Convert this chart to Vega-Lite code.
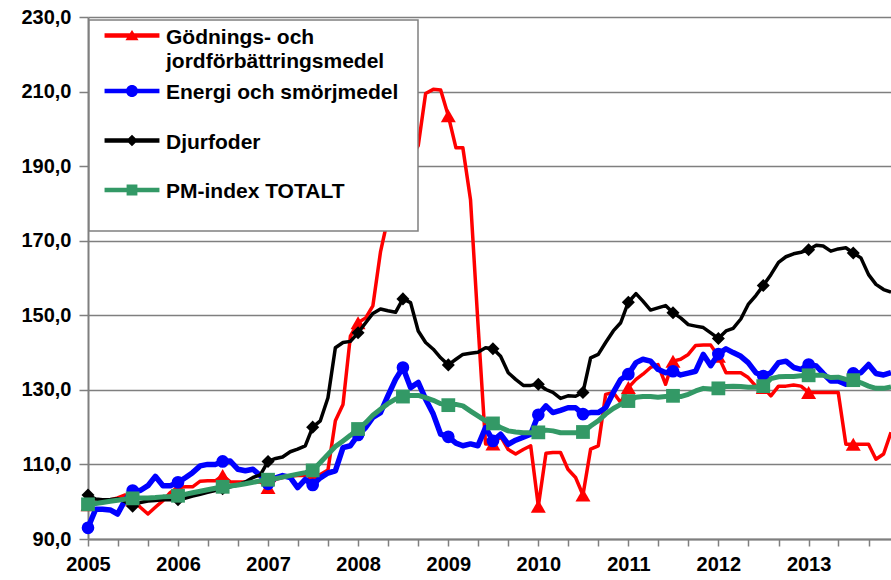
{
"$schema":"https://vega.github.io/schema/vega-lite/v6.json",
"width":803,"height":522,
"autosize":{"type":"none"},
"padding":{"left":88,"top":17,"right":0,"bottom":41},
"config":{"view":{"stroke":null},"font":"Liberation Sans"},
"data":{"format":{"parse":{"date":"utc:'%Y-%m'"}},"values":[
{"date":"2005-01","series":"godning","value":99.2},{"date":"2005-02","series":"godning","value":99.6},{"date":"2005-03","series":"godning","value":100.0},{"date":"2005-04","series":"godning","value":100.5},{"date":"2005-05","series":"godning","value":101.0},{"date":"2005-06","series":"godning","value":101.8},{"date":"2005-07","series":"godning","value":100.5},{"date":"2005-08","series":"godning","value":98.5},{"date":"2005-09","series":"godning","value":96.7},{"date":"2005-10","series":"godning","value":98.5},{"date":"2005-11","series":"godning","value":100.3},{"date":"2005-12","series":"godning","value":102.5},
{"date":"2006-01","series":"godning","value":103.8},{"date":"2006-02","series":"godning","value":104.0},{"date":"2006-03","series":"godning","value":104.0},{"date":"2006-04","series":"godning","value":105.5},{"date":"2006-05","series":"godning","value":105.6},{"date":"2006-06","series":"godning","value":105.6},{"date":"2006-07","series":"godning","value":107.0},{"date":"2006-08","series":"godning","value":105.3},{"date":"2006-09","series":"godning","value":105.3},{"date":"2006-10","series":"godning","value":105.3},{"date":"2006-11","series":"godning","value":105.3},{"date":"2006-12","series":"godning","value":105.3},
{"date":"2007-01","series":"godning","value":103.8},{"date":"2007-02","series":"godning","value":106.0},{"date":"2007-03","series":"godning","value":106.5},{"date":"2007-04","series":"godning","value":106.8},{"date":"2007-05","series":"godning","value":107.0},{"date":"2007-06","series":"godning","value":107.0},{"date":"2007-07","series":"godning","value":107.2},{"date":"2007-08","series":"godning","value":107.3},{"date":"2007-09","series":"godning","value":108.5},{"date":"2007-10","series":"godning","value":121.7},{"date":"2007-11","series":"godning","value":126.1},{"date":"2007-12","series":"godning","value":144.4},
{"date":"2008-01","series":"godning","value":148.0},{"date":"2008-02","series":"godning","value":149.3},{"date":"2008-03","series":"godning","value":152.5},{"date":"2008-04","series":"godning","value":167.0},{"date":"2008-05","series":"godning","value":176.0},{"date":"2008-06","series":"godning","value":183.0},{"date":"2008-07","series":"godning","value":188.0},{"date":"2008-08","series":"godning","value":192.0},{"date":"2008-09","series":"godning","value":195.5},{"date":"2008-10","series":"godning","value":209.5},{"date":"2008-11","series":"godning","value":210.6},{"date":"2008-12","series":"godning","value":210.4},
{"date":"2009-01","series":"godning","value":203.5},{"date":"2009-02","series":"godning","value":194.9},{"date":"2009-03","series":"godning","value":194.9},{"date":"2009-04","series":"godning","value":181.0},{"date":"2009-05","series":"godning","value":148.0},{"date":"2009-06","series":"godning","value":115.5},{"date":"2009-07","series":"godning","value":115.5},{"date":"2009-08","series":"godning","value":117.5},{"date":"2009-09","series":"godning","value":114.0},{"date":"2009-10","series":"godning","value":112.8},{"date":"2009-11","series":"godning","value":114.0},{"date":"2009-12","series":"godning","value":115.0},
{"date":"2010-01","series":"godning","value":98.8},{"date":"2010-02","series":"godning","value":113.0},{"date":"2010-03","series":"godning","value":113.2},{"date":"2010-04","series":"godning","value":113.2},{"date":"2010-05","series":"godning","value":108.7},{"date":"2010-06","series":"godning","value":106.5},{"date":"2010-07","series":"godning","value":101.8},{"date":"2010-08","series":"godning","value":114.1},{"date":"2010-09","series":"godning","value":115.0},{"date":"2010-10","series":"godning","value":128.8},{"date":"2010-11","series":"godning","value":129.3},{"date":"2010-12","series":"godning","value":126.6},
{"date":"2011-01","series":"godning","value":130.6},{"date":"2011-02","series":"godning","value":132.8},{"date":"2011-03","series":"godning","value":134.2},{"date":"2011-04","series":"godning","value":136.0},{"date":"2011-05","series":"godning","value":136.8},{"date":"2011-06","series":"godning","value":131.5},{"date":"2011-07","series":"godning","value":137.7},{"date":"2011-08","series":"godning","value":138.2},{"date":"2011-09","series":"godning","value":139.5},{"date":"2011-10","series":"godning","value":141.9},{"date":"2011-11","series":"godning","value":142.0},{"date":"2011-12","series":"godning","value":142.0},
{"date":"2012-01","series":"godning","value":139.0},{"date":"2012-02","series":"godning","value":134.6},{"date":"2012-03","series":"godning","value":134.6},{"date":"2012-04","series":"godning","value":134.6},{"date":"2012-05","series":"godning","value":133.3},{"date":"2012-06","series":"godning","value":131.0},{"date":"2012-07","series":"godning","value":130.6},{"date":"2012-08","series":"godning","value":128.4},{"date":"2012-09","series":"godning","value":131.0},{"date":"2012-10","series":"godning","value":131.0},{"date":"2012-11","series":"godning","value":131.3},{"date":"2012-12","series":"godning","value":131.0},
{"date":"2013-01","series":"godning","value":129.3},{"date":"2013-02","series":"godning","value":129.3},{"date":"2013-03","series":"godning","value":129.3},{"date":"2013-04","series":"godning","value":129.3},{"date":"2013-05","series":"godning","value":129.3},{"date":"2013-06","series":"godning","value":115.4},{"date":"2013-07","series":"godning","value":115.4},{"date":"2013-08","series":"godning","value":115.4},{"date":"2013-09","series":"godning","value":115.4},{"date":"2013-10","series":"godning","value":111.4},{"date":"2013-11","series":"godning","value":112.8},{"date":"2013-12","series":"godning","value":118.6},
{"date":"2005-01","series":"energi","value":93.0},{"date":"2005-02","series":"energi","value":98.0},{"date":"2005-03","series":"energi","value":98.0},{"date":"2005-04","series":"energi","value":97.8},{"date":"2005-05","series":"energi","value":96.7},{"date":"2005-06","series":"energi","value":100.5},{"date":"2005-07","series":"energi","value":103.0},{"date":"2005-08","series":"energi","value":103.0},{"date":"2005-09","series":"energi","value":104.3},{"date":"2005-10","series":"energi","value":106.8},{"date":"2005-11","series":"energi","value":104.3},{"date":"2005-12","series":"energi","value":104.3},
{"date":"2006-01","series":"energi","value":105.2},{"date":"2006-02","series":"energi","value":106.5},{"date":"2006-03","series":"energi","value":107.8},{"date":"2006-04","series":"energi","value":109.6},{"date":"2006-05","series":"energi","value":110.0},{"date":"2006-06","series":"energi","value":110.0},{"date":"2006-07","series":"energi","value":110.8},{"date":"2006-08","series":"energi","value":110.9},{"date":"2006-09","series":"energi","value":108.7},{"date":"2006-10","series":"energi","value":108.3},{"date":"2006-11","series":"energi","value":108.7},{"date":"2006-12","series":"energi","value":107.0},
{"date":"2007-01","series":"energi","value":104.8},{"date":"2007-02","series":"energi","value":106.4},{"date":"2007-03","series":"energi","value":107.0},{"date":"2007-04","series":"energi","value":106.5},{"date":"2007-05","series":"energi","value":103.8},{"date":"2007-06","series":"energi","value":106.0},{"date":"2007-07","series":"energi","value":104.5},{"date":"2007-08","series":"energi","value":106.4},{"date":"2007-09","series":"energi","value":107.7},{"date":"2007-10","series":"energi","value":108.3},{"date":"2007-11","series":"energi","value":114.5},{"date":"2007-12","series":"energi","value":115.0},
{"date":"2008-01","series":"energi","value":117.9},{"date":"2008-02","series":"energi","value":119.9},{"date":"2008-03","series":"energi","value":122.6},{"date":"2008-04","series":"energi","value":123.9},{"date":"2008-05","series":"energi","value":128.4},{"date":"2008-06","series":"energi","value":132.8},{"date":"2008-07","series":"energi","value":136.0},{"date":"2008-08","series":"energi","value":130.6},{"date":"2008-09","series":"energi","value":132.0},{"date":"2008-10","series":"energi","value":127.5},{"date":"2008-11","series":"energi","value":123.5},{"date":"2008-12","series":"energi","value":118.1},
{"date":"2009-01","series":"energi","value":117.4},{"date":"2009-02","series":"energi","value":115.7},{"date":"2009-03","series":"energi","value":115.0},{"date":"2009-04","series":"energi","value":115.5},{"date":"2009-05","series":"energi","value":115.0},{"date":"2009-06","series":"energi","value":119.9},{"date":"2009-07","series":"energi","value":116.3},{"date":"2009-08","series":"energi","value":118.1},{"date":"2009-09","series":"energi","value":115.4},{"date":"2009-10","series":"energi","value":116.5},{"date":"2009-11","series":"energi","value":117.3},{"date":"2009-12","series":"energi","value":118.1},
{"date":"2010-01","series":"energi","value":123.3},{"date":"2010-02","series":"energi","value":125.7},{"date":"2010-03","series":"energi","value":123.9},{"date":"2010-04","series":"energi","value":124.5},{"date":"2010-05","series":"energi","value":125.2},{"date":"2010-06","series":"energi","value":125.2},{"date":"2010-07","series":"energi","value":123.5},{"date":"2010-08","series":"energi","value":123.9},{"date":"2010-09","series":"energi","value":123.9},{"date":"2010-10","series":"energi","value":125.2},{"date":"2010-11","series":"energi","value":129.3},{"date":"2010-12","series":"energi","value":132.8},
{"date":"2011-01","series":"energi","value":134.2},{"date":"2011-02","series":"energi","value":137.3},{"date":"2011-03","series":"energi","value":138.2},{"date":"2011-04","series":"energi","value":137.7},{"date":"2011-05","series":"energi","value":135.5},{"date":"2011-06","series":"energi","value":134.6},{"date":"2011-07","series":"energi","value":135.0},{"date":"2011-08","series":"energi","value":134.0},{"date":"2011-09","series":"energi","value":134.5},{"date":"2011-10","series":"energi","value":135.0},{"date":"2011-11","series":"energi","value":139.5},{"date":"2011-12","series":"energi","value":136.5},
{"date":"2012-01","series":"energi","value":139.6},{"date":"2012-02","series":"energi","value":141.0},{"date":"2012-03","series":"energi","value":140.0},{"date":"2012-04","series":"energi","value":139.0},{"date":"2012-05","series":"energi","value":137.3},{"date":"2012-06","series":"energi","value":134.6},{"date":"2012-07","series":"energi","value":133.7},{"date":"2012-08","series":"energi","value":134.6},{"date":"2012-09","series":"energi","value":137.3},{"date":"2012-10","series":"energi","value":137.7},{"date":"2012-11","series":"energi","value":136.0},{"date":"2012-12","series":"energi","value":135.5},
{"date":"2013-01","series":"energi","value":136.8},{"date":"2013-02","series":"energi","value":136.4},{"date":"2013-03","series":"energi","value":134.4},{"date":"2013-04","series":"energi","value":132.4},{"date":"2013-05","series":"energi","value":132.4},{"date":"2013-06","series":"energi","value":131.5},{"date":"2013-07","series":"energi","value":134.4},{"date":"2013-08","series":"energi","value":134.6},{"date":"2013-09","series":"energi","value":136.8},{"date":"2013-10","series":"energi","value":134.4},{"date":"2013-11","series":"energi","value":134.0},{"date":"2013-12","series":"energi","value":134.6},
{"date":"2005-01","series":"djurfoder","value":101.8},{"date":"2005-02","series":"djurfoder","value":100.7},{"date":"2005-03","series":"djurfoder","value":100.5},{"date":"2005-04","series":"djurfoder","value":100.6},{"date":"2005-05","series":"djurfoder","value":100.8},{"date":"2005-06","series":"djurfoder","value":100.0},{"date":"2005-07","series":"djurfoder","value":98.8},{"date":"2005-08","series":"djurfoder","value":99.8},{"date":"2005-09","series":"djurfoder","value":100.2},{"date":"2005-10","series":"djurfoder","value":100.3},{"date":"2005-11","series":"djurfoder","value":100.5},{"date":"2005-12","series":"djurfoder","value":100.6},
{"date":"2006-01","series":"djurfoder","value":100.5},{"date":"2006-02","series":"djurfoder","value":101.0},{"date":"2006-03","series":"djurfoder","value":101.5},{"date":"2006-04","series":"djurfoder","value":102.0},{"date":"2006-05","series":"djurfoder","value":102.5},{"date":"2006-06","series":"djurfoder","value":103.0},{"date":"2006-07","series":"djurfoder","value":103.5},{"date":"2006-08","series":"djurfoder","value":104.0},{"date":"2006-09","series":"djurfoder","value":104.5},{"date":"2006-10","series":"djurfoder","value":105.3},{"date":"2006-11","series":"djurfoder","value":106.5},{"date":"2006-12","series":"djurfoder","value":107.2},
{"date":"2007-01","series":"djurfoder","value":110.8},{"date":"2007-02","series":"djurfoder","value":111.6},{"date":"2007-03","series":"djurfoder","value":112.0},{"date":"2007-04","series":"djurfoder","value":113.4},{"date":"2007-05","series":"djurfoder","value":114.1},{"date":"2007-06","series":"djurfoder","value":115.0},{"date":"2007-07","series":"djurfoder","value":120.0},{"date":"2007-08","series":"djurfoder","value":121.7},{"date":"2007-09","series":"djurfoder","value":127.9},{"date":"2007-10","series":"djurfoder","value":141.3},{"date":"2007-11","series":"djurfoder","value":142.7},{"date":"2007-12","series":"djurfoder","value":143.0},
{"date":"2008-01","series":"djurfoder","value":145.3},{"date":"2008-02","series":"djurfoder","value":148.0},{"date":"2008-03","series":"djurfoder","value":150.5},{"date":"2008-04","series":"djurfoder","value":151.7},{"date":"2008-05","series":"djurfoder","value":151.2},{"date":"2008-06","series":"djurfoder","value":150.8},{"date":"2008-07","series":"djurfoder","value":154.4},{"date":"2008-08","series":"djurfoder","value":153.4},{"date":"2008-09","series":"djurfoder","value":145.8},{"date":"2008-10","series":"djurfoder","value":142.7},{"date":"2008-11","series":"djurfoder","value":140.9},{"date":"2008-12","series":"djurfoder","value":138.6},
{"date":"2009-01","series":"djurfoder","value":136.7},{"date":"2009-02","series":"djurfoder","value":138.2},{"date":"2009-03","series":"djurfoder","value":139.5},{"date":"2009-04","series":"djurfoder","value":139.8},{"date":"2009-05","series":"djurfoder","value":140.1},{"date":"2009-06","series":"djurfoder","value":141.3},{"date":"2009-07","series":"djurfoder","value":141.0},{"date":"2009-08","series":"djurfoder","value":139.0},{"date":"2009-09","series":"djurfoder","value":134.6},{"date":"2009-10","series":"djurfoder","value":132.8},{"date":"2009-11","series":"djurfoder","value":131.2},{"date":"2009-12","series":"djurfoder","value":131.2},
{"date":"2010-01","series":"djurfoder","value":131.5},{"date":"2010-02","series":"djurfoder","value":130.1},{"date":"2010-03","series":"djurfoder","value":129.3},{"date":"2010-04","series":"djurfoder","value":127.7},{"date":"2010-05","series":"djurfoder","value":128.4},{"date":"2010-06","series":"djurfoder","value":128.3},{"date":"2010-07","series":"djurfoder","value":129.3},{"date":"2010-08","series":"djurfoder","value":138.6},{"date":"2010-09","series":"djurfoder","value":139.5},{"date":"2010-10","series":"djurfoder","value":142.7},{"date":"2010-11","series":"djurfoder","value":145.8},{"date":"2010-12","series":"djurfoder","value":148.0},
{"date":"2011-01","series":"djurfoder","value":153.5},{"date":"2011-02","series":"djurfoder","value":155.8},{"date":"2011-03","series":"djurfoder","value":153.8},{"date":"2011-04","series":"djurfoder","value":151.4},{"date":"2011-05","series":"djurfoder","value":152.0},{"date":"2011-06","series":"djurfoder","value":152.6},{"date":"2011-07","series":"djurfoder","value":150.7},{"date":"2011-08","series":"djurfoder","value":149.3},{"date":"2011-09","series":"djurfoder","value":147.5},{"date":"2011-10","series":"djurfoder","value":147.1},{"date":"2011-11","series":"djurfoder","value":146.7},{"date":"2011-12","series":"djurfoder","value":145.3},
{"date":"2012-01","series":"djurfoder","value":143.8},{"date":"2012-02","series":"djurfoder","value":145.8},{"date":"2012-03","series":"djurfoder","value":146.5},{"date":"2012-04","series":"djurfoder","value":149.0},{"date":"2012-05","series":"djurfoder","value":152.9},{"date":"2012-06","series":"djurfoder","value":155.3},{"date":"2012-07","series":"djurfoder","value":158.0},{"date":"2012-08","series":"djurfoder","value":160.9},{"date":"2012-09","series":"djurfoder","value":164.2},{"date":"2012-10","series":"djurfoder","value":165.7},{"date":"2012-11","series":"djurfoder","value":166.5},{"date":"2012-12","series":"djurfoder","value":166.9},
{"date":"2013-01","series":"djurfoder","value":167.6},{"date":"2013-02","series":"djurfoder","value":168.8},{"date":"2013-03","series":"djurfoder","value":168.6},{"date":"2013-04","series":"djurfoder","value":167.2},{"date":"2013-05","series":"djurfoder","value":167.8},{"date":"2013-06","series":"djurfoder","value":168.1},{"date":"2013-07","series":"djurfoder","value":166.7},{"date":"2013-08","series":"djurfoder","value":165.4},{"date":"2013-09","series":"djurfoder","value":160.9},{"date":"2013-10","series":"djurfoder","value":158.3},{"date":"2013-11","series":"djurfoder","value":156.9},{"date":"2013-12","series":"djurfoder","value":156.2},
{"date":"2005-01","series":"pmindex","value":99.3},{"date":"2005-02","series":"pmindex","value":99.5},{"date":"2005-03","series":"pmindex","value":99.8},{"date":"2005-04","series":"pmindex","value":100.1},{"date":"2005-05","series":"pmindex","value":100.4},{"date":"2005-06","series":"pmindex","value":100.7},{"date":"2005-07","series":"pmindex","value":100.9},{"date":"2005-08","series":"pmindex","value":101.0},{"date":"2005-09","series":"pmindex","value":101.0},{"date":"2005-10","series":"pmindex","value":101.1},{"date":"2005-11","series":"pmindex","value":101.3},{"date":"2005-12","series":"pmindex","value":101.4},
{"date":"2006-01","series":"pmindex","value":101.6},{"date":"2006-02","series":"pmindex","value":102.0},{"date":"2006-03","series":"pmindex","value":102.4},{"date":"2006-04","series":"pmindex","value":102.8},{"date":"2006-05","series":"pmindex","value":103.2},{"date":"2006-06","series":"pmindex","value":103.6},{"date":"2006-07","series":"pmindex","value":104.0},{"date":"2006-08","series":"pmindex","value":104.2},{"date":"2006-09","series":"pmindex","value":104.5},{"date":"2006-10","series":"pmindex","value":104.8},{"date":"2006-11","series":"pmindex","value":105.2},{"date":"2006-12","series":"pmindex","value":105.6},
{"date":"2007-01","series":"pmindex","value":105.9},{"date":"2007-02","series":"pmindex","value":106.2},{"date":"2007-03","series":"pmindex","value":106.6},{"date":"2007-04","series":"pmindex","value":107.0},{"date":"2007-05","series":"pmindex","value":107.4},{"date":"2007-06","series":"pmindex","value":107.8},{"date":"2007-07","series":"pmindex","value":108.4},{"date":"2007-08","series":"pmindex","value":110.5},{"date":"2007-09","series":"pmindex","value":112.7},{"date":"2007-10","series":"pmindex","value":114.8},{"date":"2007-11","series":"pmindex","value":116.3},{"date":"2007-12","series":"pmindex","value":117.8},
{"date":"2008-01","series":"pmindex","value":119.5},{"date":"2008-02","series":"pmindex","value":121.2},{"date":"2008-03","series":"pmindex","value":123.2},{"date":"2008-04","series":"pmindex","value":124.8},{"date":"2008-05","series":"pmindex","value":126.3},{"date":"2008-06","series":"pmindex","value":127.5},{"date":"2008-07","series":"pmindex","value":128.2},{"date":"2008-08","series":"pmindex","value":128.5},{"date":"2008-09","series":"pmindex","value":128.5},{"date":"2008-10","series":"pmindex","value":127.9},{"date":"2008-11","series":"pmindex","value":127.2},{"date":"2008-12","series":"pmindex","value":126.3},
{"date":"2009-01","series":"pmindex","value":125.9},{"date":"2009-02","series":"pmindex","value":126.1},{"date":"2009-03","series":"pmindex","value":125.7},{"date":"2009-04","series":"pmindex","value":124.3},{"date":"2009-05","series":"pmindex","value":123.0},{"date":"2009-06","series":"pmindex","value":121.7},{"date":"2009-07","series":"pmindex","value":121.0},{"date":"2009-08","series":"pmindex","value":119.9},{"date":"2009-09","series":"pmindex","value":119.0},{"date":"2009-10","series":"pmindex","value":118.7},{"date":"2009-11","series":"pmindex","value":118.5},{"date":"2009-12","series":"pmindex","value":118.5},
{"date":"2010-01","series":"pmindex","value":118.6},{"date":"2010-02","series":"pmindex","value":119.2},{"date":"2010-03","series":"pmindex","value":119.0},{"date":"2010-04","series":"pmindex","value":118.5},{"date":"2010-05","series":"pmindex","value":118.5},{"date":"2010-06","series":"pmindex","value":118.5},{"date":"2010-07","series":"pmindex","value":118.7},{"date":"2010-08","series":"pmindex","value":120.3},{"date":"2010-09","series":"pmindex","value":121.7},{"date":"2010-10","series":"pmindex","value":123.5},{"date":"2010-11","series":"pmindex","value":125.0},{"date":"2010-12","series":"pmindex","value":126.1},
{"date":"2011-01","series":"pmindex","value":127.0},{"date":"2011-02","series":"pmindex","value":128.0},{"date":"2011-03","series":"pmindex","value":128.2},{"date":"2011-04","series":"pmindex","value":128.2},{"date":"2011-05","series":"pmindex","value":128.0},{"date":"2011-06","series":"pmindex","value":128.2},{"date":"2011-07","series":"pmindex","value":128.4},{"date":"2011-08","series":"pmindex","value":128.2},{"date":"2011-09","series":"pmindex","value":128.8},{"date":"2011-10","series":"pmindex","value":129.7},{"date":"2011-11","series":"pmindex","value":130.4},{"date":"2011-12","series":"pmindex","value":130.2},
{"date":"2012-01","series":"pmindex","value":130.4},{"date":"2012-02","series":"pmindex","value":130.9},{"date":"2012-03","series":"pmindex","value":131.0},{"date":"2012-04","series":"pmindex","value":130.9},{"date":"2012-05","series":"pmindex","value":130.7},{"date":"2012-06","series":"pmindex","value":130.7},{"date":"2012-07","series":"pmindex","value":131.0},{"date":"2012-08","series":"pmindex","value":133.0},{"date":"2012-09","series":"pmindex","value":133.5},{"date":"2012-10","series":"pmindex","value":133.6},{"date":"2012-11","series":"pmindex","value":133.6},{"date":"2012-12","series":"pmindex","value":133.8},
{"date":"2013-01","series":"pmindex","value":133.9},{"date":"2013-02","series":"pmindex","value":133.9},{"date":"2013-03","series":"pmindex","value":133.9},{"date":"2013-04","series":"pmindex","value":133.3},{"date":"2013-05","series":"pmindex","value":133.4},{"date":"2013-06","series":"pmindex","value":132.8},{"date":"2013-07","series":"pmindex","value":132.6},{"date":"2013-08","series":"pmindex","value":131.9},{"date":"2013-09","series":"pmindex","value":131.0},{"date":"2013-10","series":"pmindex","value":130.4},{"date":"2013-11","series":"pmindex","value":130.4},{"date":"2013-12","series":"pmindex","value":130.8}
]},
"encoding":{
"x":{"field":"date","type":"temporal","scale":{"type":"utc","domain":[{"year":2005,"month":1,"date":1,"utc":true},{"year":2013,"month":12,"date":1,"utc":true}]},
"axis":{"title":null,"grid":false,"values":[{"year":2005,"month":1,"utc":true},{"year":2005,"month":5,"utc":true},{"year":2005,"month":9,"utc":true},{"year":2006,"month":1,"utc":true},{"year":2006,"month":5,"utc":true},{"year":2006,"month":9,"utc":true},{"year":2007,"month":1,"utc":true},{"year":2007,"month":5,"utc":true},{"year":2007,"month":9,"utc":true},{"year":2008,"month":1,"utc":true},{"year":2008,"month":5,"utc":true},{"year":2008,"month":9,"utc":true},{"year":2009,"month":1,"utc":true},{"year":2009,"month":5,"utc":true},{"year":2009,"month":9,"utc":true},{"year":2010,"month":1,"utc":true},{"year":2010,"month":5,"utc":true},{"year":2010,"month":9,"utc":true},{"year":2011,"month":1,"utc":true},{"year":2011,"month":5,"utc":true},{"year":2011,"month":9,"utc":true},{"year":2012,"month":1,"utc":true},{"year":2012,"month":5,"utc":true},{"year":2012,"month":9,"utc":true},{"year":2013,"month":1,"utc":true},{"year":2013,"month":5,"utc":true},{"year":2013,"month":9,"utc":true}],
"labelExpr":"utcmonth(datum.value)==0 ? utcFormat(datum.value,'%Y') : ''","labelOverlap":false,"labelFlush":false,"domainColor":"#7f7f7f","domainWidth":2,"tickColor":"#7f7f7f","tickWidth":1.5,"tickSize":7,"labelPadding":8,"labelFont":"Liberation Sans","labelFontSize":20,"labelFontWeight":"bold","labelColor":"#000000"}},
"y":{"field":"value","type":"quantitative","scale":{"domain":[90,230],"nice":false,"zero":false},
"axis":{"title":null,"values":[90,110,130,150,170,190,210,230],"labelExpr":"replace(format(datum.value,'.1f'),'.',',')","grid":true,"gridColor":"#7f7f7f","gridWidth":1.5,"domainColor":"#7f7f7f","domainWidth":2,"tickColor":"#7f7f7f","tickWidth":1.5,"tickSize":9,"labelPadding":8,"labelFlush":false,"labelFont":"Liberation Sans","labelFontSize":20,"labelFontWeight":"bold","labelColor":"#000000"}}
},
"layer":[
{"transform":[{"filter":"datum.series=='godning'"}],"mark":{"type":"line","strokeWidth":3.5,"strokeJoin":"round"},
"encoding":{"color":{"field":"series","type":"nominal","scale":{"domain":["godning","energi","djurfoder","pmindex"],"range":["#ff0000","#0000ff","#000000","#339966"]},
"legend":{"title":null,"orient":"none","legendX":1,"legendY":3,"padding":5,"rowPadding":3.5,"symbolSize":324,"symbolOffset":27.5,"labelOffset":23.5,"labelLimit":400,"labelFont":"Liberation Sans","labelFontSize":21,"labelFontWeight":"bold","labelColor":"#000000","labelBaseline":"top","fillColor":"#ffffff","strokeColor":"#808080",
"labelExpr":"datum.value=='godning' ? ['Gödnings- och','jordförbättringsmedel'] : datum.value=='energi' ? 'Energi och smörjmedel' : datum.value=='djurfoder' ? 'Djurfoder' : 'PM-index TOTALT'",
"encode":{"legend":{"update":{"strokeWidth":{"value":1.5}}},
"labels":{"update":{"dy":{"value":-9},"lineHeight":{"value":24}}},
"symbols":{"update":{"fill":{"signal":"scale('color', datum.value)"},"stroke":{"value":"transparent"},"strokeWidth":{"value":0},"opacity":{"value":1},
"shape":{"signal":"datum.value=='godning' ? 'M-3.05,-0.25H3.05V0.25H-3.05ZM0,-0.61L0.73,0.52L-0.73,0.52ZM31.2,4.6L31.201,4.6Z' : datum.value=='energi' ? 'M-3.05,-0.25H3.05V0.25H-3.05ZM-0.67,0A0.67,0.67,0,1,1,0.67,0A0.67,0.67,0,1,1,-0.67,0ZM31.2,3.9L31.201,3.9Z' : datum.value=='djurfoder' ? 'M-3.05,-0.25H3.05V0.25H-3.05ZM0,-0.65L0.65,0L0,0.65L-0.65,0ZM31.2,3.9L31.201,3.9Z' : 'M-3.05,-0.25H3.05V0.25H-3.05ZM-0.6,-0.6H0.6V0.6H-0.6ZM31.2,3.9L31.201,3.9Z'"}}}}}}}},
{"transform":[{"filter":"datum.series=='godning' && utcmonth(datum.date)%6==0"}],"mark":{"type":"point","shape":"triangle-up","filled":true,"size":225,"color":"#ff0000","opacity":1}},
{"transform":[{"filter":"datum.series=='energi'"}],"mark":{"type":"line","strokeWidth":5.5,"strokeJoin":"round"},"encoding":{"color":{"field":"series","type":"nominal"}}},
{"transform":[{"filter":"datum.series=='energi' && utcmonth(datum.date)%6==0"}],"mark":{"type":"point","shape":"circle","filled":true,"size":160,"color":"#0000ff","opacity":1}},
{"transform":[{"filter":"datum.series=='djurfoder'"}],"mark":{"type":"line","strokeWidth":3.5,"strokeJoin":"round"},"encoding":{"color":{"field":"series","type":"nominal"}}},
{"transform":[{"filter":"datum.series=='djurfoder' && utcmonth(datum.date)%6==0"}],"mark":{"type":"point","shape":"diamond","filled":true,"size":170,"color":"#000000","opacity":1}},
{"transform":[{"filter":"datum.series=='pmindex'"}],"mark":{"type":"line","strokeWidth":5,"strokeJoin":"round"},"encoding":{"color":{"field":"series","type":"nominal"}}},
{"transform":[{"filter":"datum.series=='pmindex' && utcmonth(datum.date)%6==0"}],"mark":{"type":"point","shape":"square","filled":true,"size":190,"color":"#339966","opacity":1}}
]
}
